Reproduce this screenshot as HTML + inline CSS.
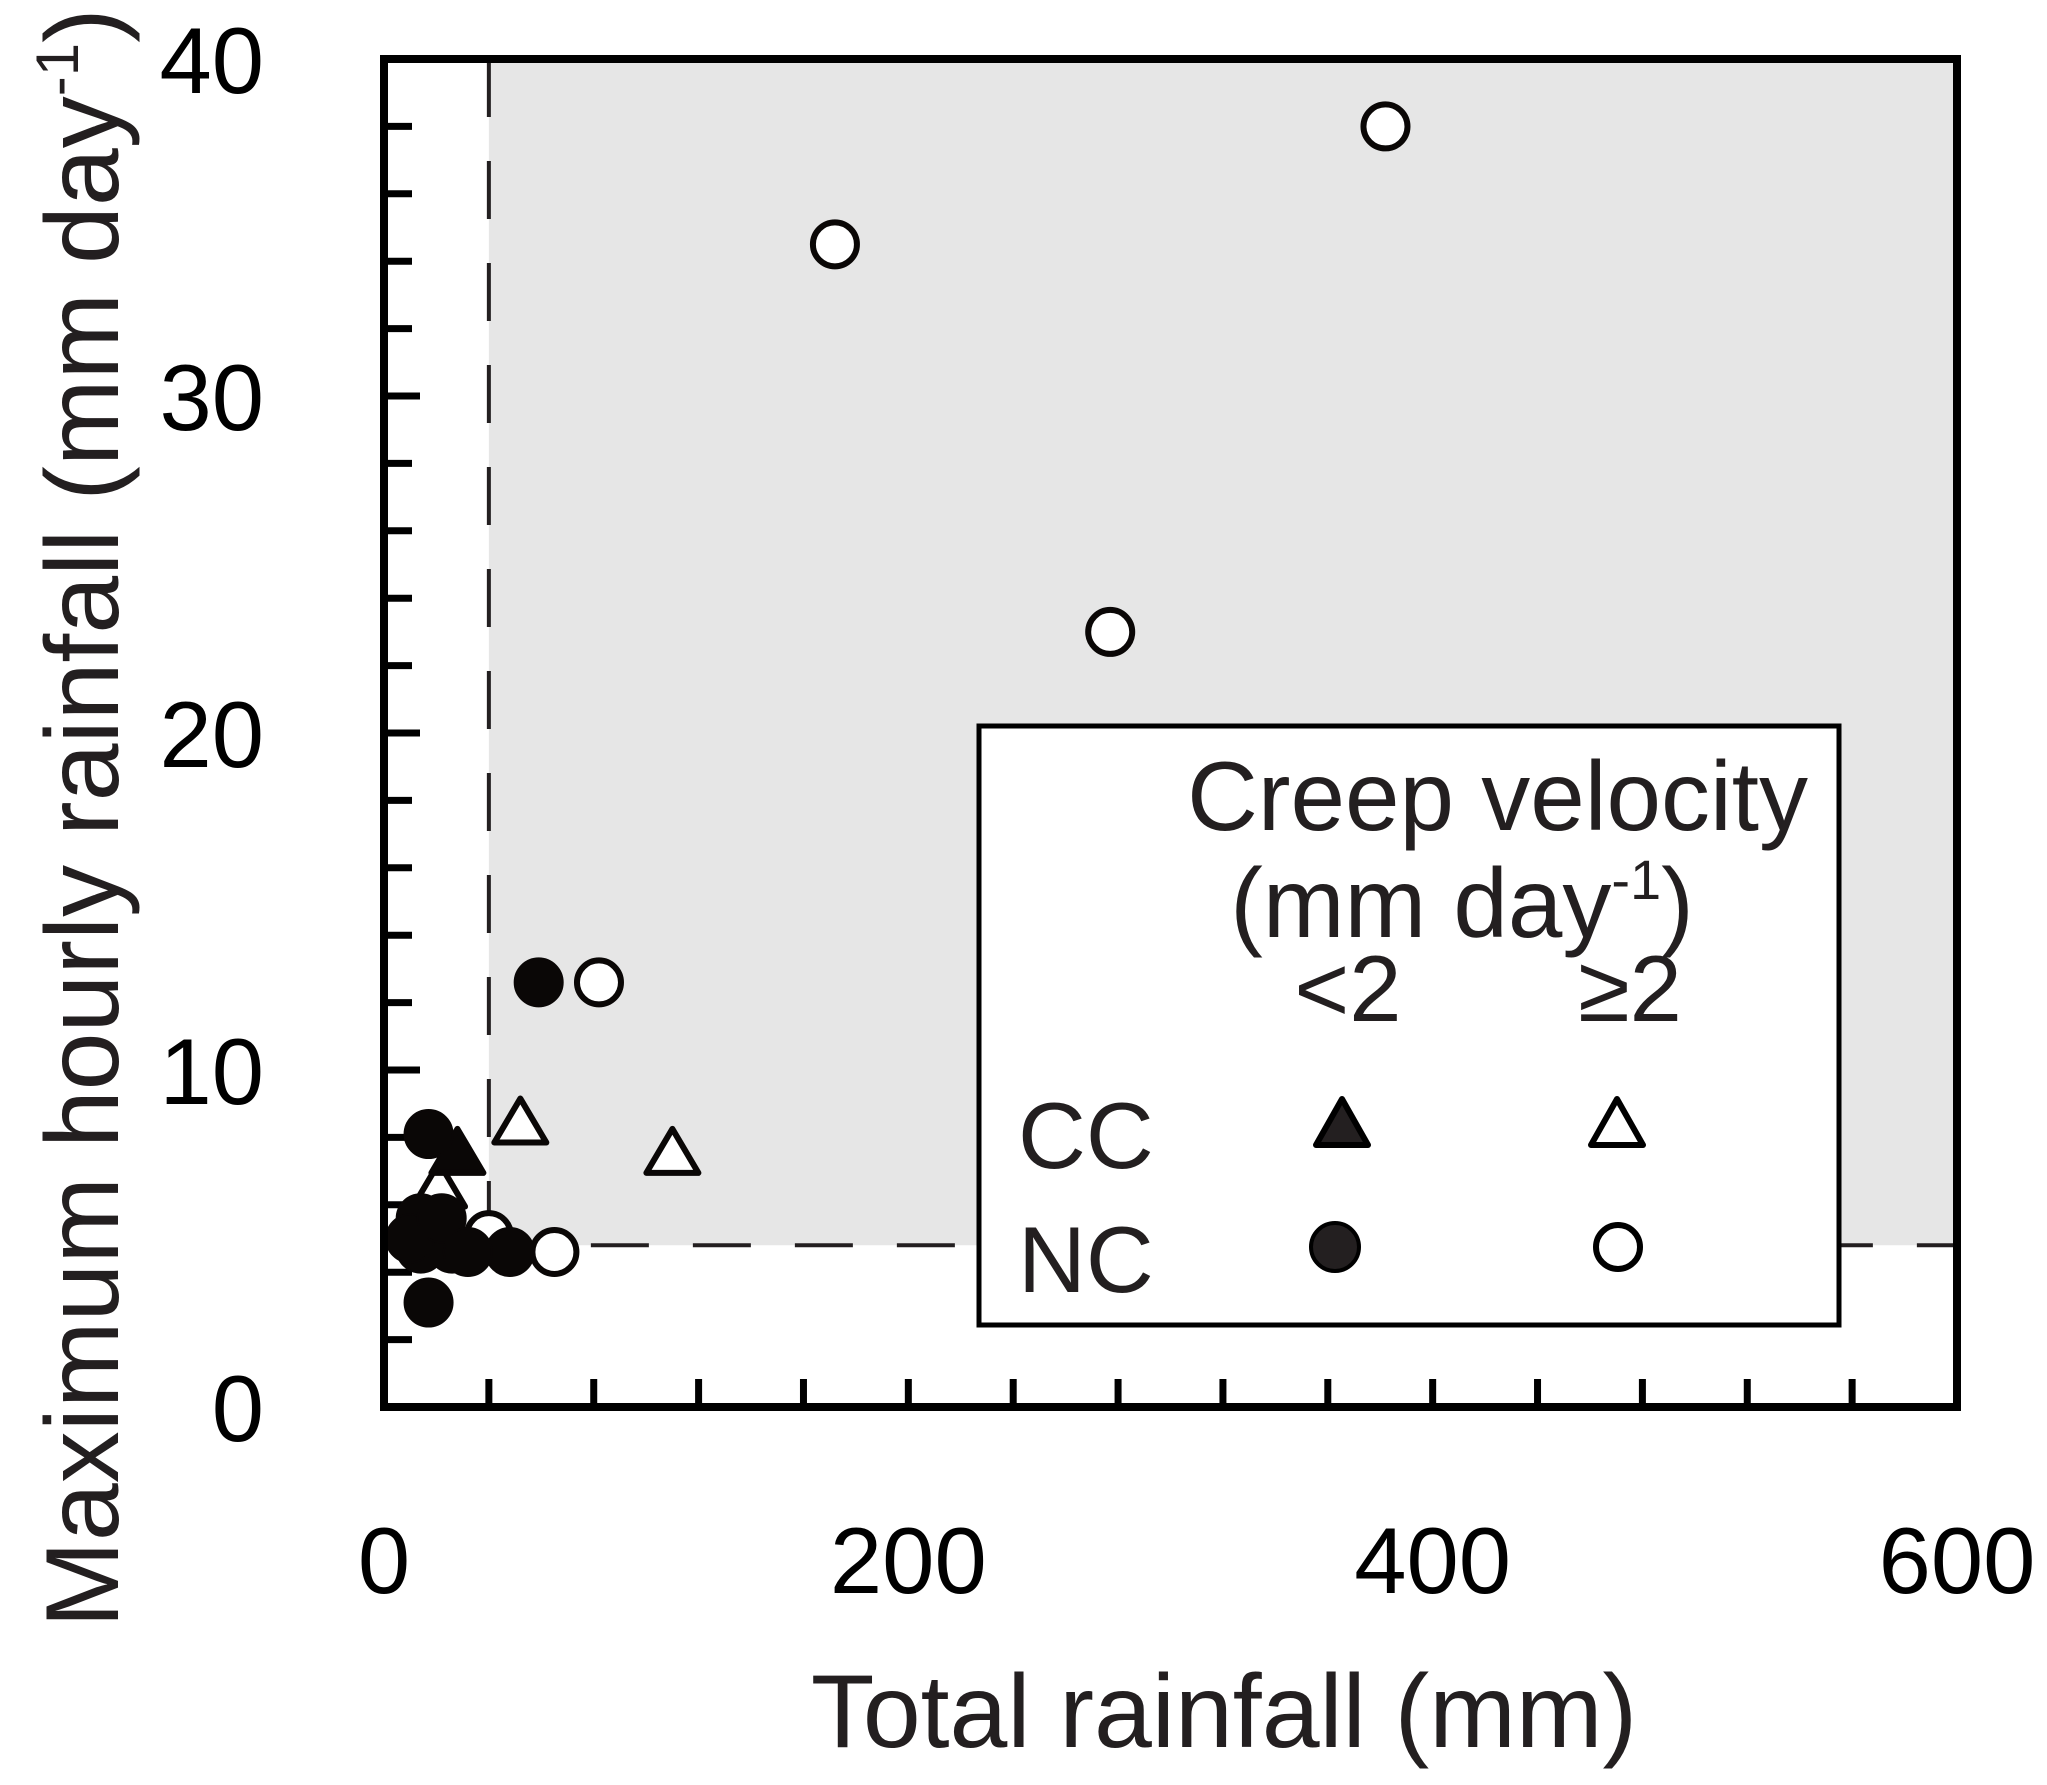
<!DOCTYPE html>
<html><head><meta charset="utf-8"><style>
html,body{margin:0;padding:0;background:#fff;}
svg{display:block;font-family:"Liberation Sans",sans-serif;}
</style></head><body>
<svg id="chart" width="2047" height="1785" viewBox="0 0 2047 1785">
<g id="plot"></g>
</svg>
<script>
const xTicks=[0,200,400,600];
const yTicks=[0,10,20,30,40];
const threshX=[40];
const threshY=[4.8];
const ncSlowX=[59,17,14,14,17,48,26,10,22,32];
const ncSlowY=[12.6,8.1,5.6,4.7,3.1,4.6,4.7,5.0,5.6,4.6];
const ncFastX=[382,172,277,82,65,40];
const ncFastY=[38.0,34.5,23.0,12.6,4.6,5.1];
const ccSlowX=[28,28,20];
const ccSlowY=[7.6,4.9,5.2];
const ccFastX=[21,52,110];
const ccFastY=[6.6,8.5,7.6];

const L=384,R=1957,T=59,B=1407;
const xs=v=>L+(v/600)*(R-L);
const ys=v=>B-(v/40)*(B-T);
const NS='http://www.w3.org/2000/svg';
const g=document.getElementById('plot');
function mk(tag,attrs,parent){const e=document.createElementNS(NS,tag);for(const k in attrs)e.setAttribute(k,attrs[k]);(parent||g).appendChild(e);return e;}

let sh=mk('rect',{x:xs(threshX[0]),y:T,width:R-xs(threshX[0]),height:ys(threshY[0])-T,fill:'#e6e6e6'});


let dv=mk('line',{x1:xs(threshX[0]),y1:T,x2:xs(threshX[0]),y2:ys(threshY[0]),stroke:'#231f20','stroke-width':4,'stroke-dasharray':'58 44'});


let dh=mk('line',{x1:xs(threshX[0]),y1:ys(threshY[0]),x2:R,y2:ys(threshY[0]),stroke:'#231f20','stroke-width':4,'stroke-dasharray':'58 44'});



for(let v=40;v<600;v+=40){let t=mk('line',{x1:xs(v),y1:B,x2:xs(v),y2:B-28,stroke:'#000','stroke-width':7});

}
for(let v=2;v<40;v+=2){let t=mk('line',{x1:L,y1:ys(v),x2:L+(v%10===0?36:28),y2:ys(v),stroke:'#000','stroke-width':7});

}
xTicks.forEach(v=>{let t=mk('text',{x:xs(v),y:1593,'font-size':94,'text-anchor':'middle',fill:'#000'});t.textContent=v;

});
yTicks.forEach(v=>{let t=mk('text',{x:264,y:ys(v)+34,'font-size':94,'text-anchor':'end',fill:'#000'});t.textContent=v;

});

function circ(x,y,filled,name){let c=mk('circle',{cx:xs(x),cy:ys(y),r:filled?24:22,fill:filled?'#0a0706':'#fff',stroke:'#0a0706','stroke-width':filled?2:6});

}
function tri(x,y,filled,name){const cx=xs(x),cy=ys(y),w=26,h=22;let p=mk('polygon',{points:`${cx},${cy-h} ${cx+w},${cy+h} ${cx-w},${cy+h}`,fill:filled?'#0a0706':'#fff',stroke:'#0a0706','stroke-width':6,'stroke-linejoin':'round'});

}
ncFastX.forEach((x,i)=>circ(x,ncFastY[i],false,'nc-fast-point'));
ccFastX.forEach((x,i)=>tri(x,ccFastY[i],false,'cc-fast-point'));
ccSlowX.forEach((x,i)=>tri(x,ccSlowY[i],true,'cc-slow-point'));
ncSlowX.forEach((x,i)=>circ(x,ncSlowY[i],true,'nc-slow-point'));

let fr=mk('rect',{x:L,y:T,width:R-L,height:B-T,fill:'none',stroke:'#000','stroke-width':8});



const lg=mk('g',{});


mk('rect',{x:979,y:726,width:860,height:599,fill:'#fff',stroke:'#000','stroke-width':5},lg);
function txt(s,x,y,anchor,name,size){let t=mk('text',{x:x,y:y,'font-size':size||96,'text-anchor':anchor,fill:'#231f20'},lg);t.textContent=s;

return t;}
txt('Creep velocity',1808,830,'end','legend-title',98);
let t2=txt('(mm day',1462,937,'middle','legend-units',98);
let sup=document.createElementNS(NS,'tspan');sup.setAttribute('font-size','56');sup.setAttribute('dy','-38');sup.textContent='-1';t2.appendChild(sup);
let cl=document.createElementNS(NS,'tspan');cl.setAttribute('dy','38');cl.textContent=')';t2.appendChild(cl);
txt('<2',1348,1021,'middle','legend-col-slow',94);
txt('≥2',1630,1021,'middle','legend-col-fast',94);
txt('CC',1018,1168,'start','legend-row-cc',94);
txt('NC',1018,1292,'start','legend-row-nc',94);
function ltri(cx,cy,filled,name){let p=mk('polygon',{points:`${cx},${cy-24} ${cx+26},${cy+22} ${cx-26},${cy+22}`,fill:filled?'#231f20':'#fff',stroke:'#000','stroke-width':6,'stroke-linejoin':'round'},lg);

}
ltri(1342,1123,true,'legend-cc-slow');
ltri(1617,1123,false,'legend-cc-fast');
let lc1=mk('circle',{cx:1335,cy:1247,r:24,fill:'#231f20',stroke:'#000','stroke-width':4},lg);


let lc2=mk('circle',{cx:1618,cy:1247,r:22,fill:'#fff',stroke:'#000','stroke-width':6},lg);



let xt=mk('text',{x:1224,y:1747,'font-size':104,'text-anchor':'middle',fill:'#231f20'});xt.textContent='Total rainfall (mm)';


let yt=mk('text',{x:0,y:0,'font-size':104,'text-anchor':'middle',fill:'#231f20',transform:'translate(118,818) rotate(-90)'});
yt.textContent='Maximum hourly rainfall (mm day';
let ys1=document.createElementNS(NS,'tspan');ys1.setAttribute('font-size','60');ys1.setAttribute('dy','-40');ys1.textContent='-1';yt.appendChild(ys1);
let ys2=document.createElementNS(NS,'tspan');ys2.setAttribute('dy','40');ys2.textContent=')';yt.appendChild(ys2);


</script>
</body></html>
